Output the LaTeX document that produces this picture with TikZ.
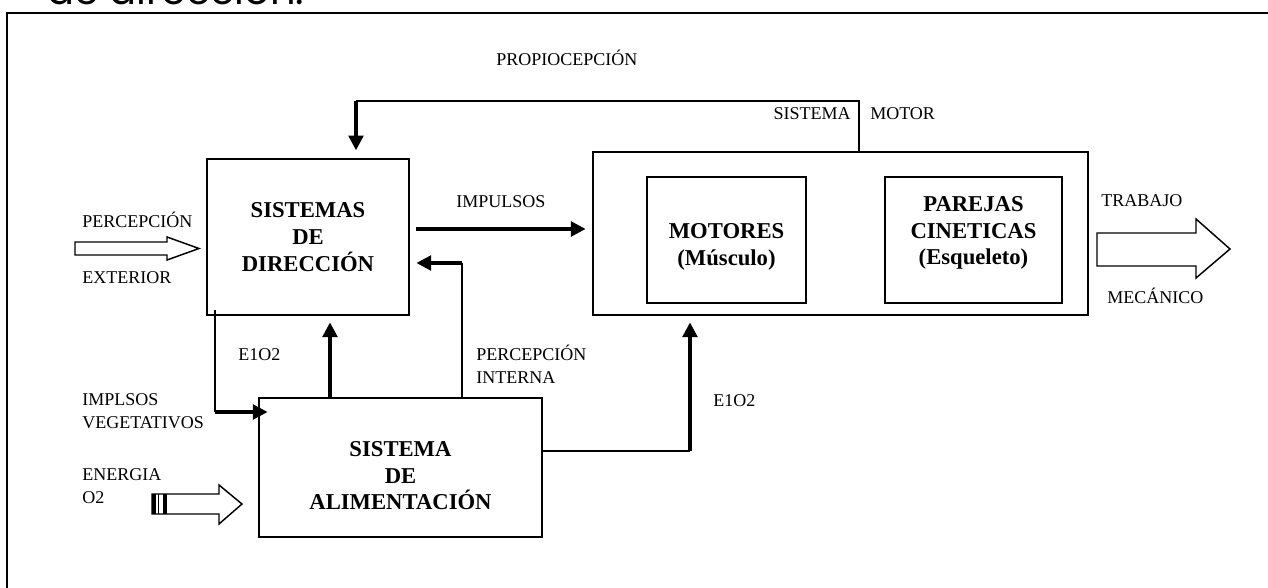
\documentclass[tikz,border=0pt]{standalone}
\usepackage{fontspec}
\setmainfont{Liberation Serif}
\newfontfamily\headfont{Poppins}
\usetikzlibrary{positioning,arrows.meta}

\begin{document}
\begin{tikzpicture}[
  x=0.75pt, y=-0.75pt,
  box/.style={draw, line width=1.1pt, align=center, inner sep=0pt,
    font=\bfseries\fontsize{17}{20}\selectfont},
  lbl/.style={inner sep=0pt, align=left, font=\fontsize{13.5}{17}\selectfont},
  thinln/.style={line width=1.1pt},
  flow/.style={line width=2.4pt, -{Triangle[length=11pt,width=11pt]}},
  hollow/.style={line width=1.1pt, line join=miter},
]
\useasboundingbox (0,0) rectangle (1268,588);
\clip (0,0) rectangle (1268,588);

  % frame and the cut heading above it
  \node[anchor=base west, inner sep=0pt, font=\headfont\fontsize{30}{33}\selectfont] (head) at (47,5) {de dirección.};
  \draw[line width=2.2pt] (1300,13) -- (7,13) -- (7,620);

  % boxes
  \node[box, minimum width=151.5pt, minimum height=117pt] (dir) at (308,237) {SISTEMAS\\DE\\DIRECCIÓN};
  \node[box, minimum width=371.25pt, minimum height=122.25pt] (motor) at (840.5,233.5) {};
  \node[box, minimum width=119.25pt, minimum height=94.5pt] (mot) at (726.5,240) {\rule{0pt}{22pt}MOTORES\\(Músculo)};
  \node[box, minimum width=132.75pt, minimum height=94.5pt] (par) at (973.5,240) {PAREJAS\\CINETICAS\\(Esqueleto)\\[-6pt]~};
  \node[box, minimum width=212.25pt, minimum height=104.25pt] (alim) at (400.5,467.5) {\rule{0pt}{23.5pt}SISTEMA\\DE\\ALIMENTACIÓN};

  % labels
  \node[lbl, anchor=base west] (prop) at (496,66) {PROPIOCEPCIÓN};
  \node[lbl, anchor=base east] (sis) at (851,120) {SISTEMA};
  \node[lbl, anchor=base west] (mtr) at (870,120) {MOTOR};
  \node[lbl, anchor=base west] (imp) at (456,208) {IMPULSOS};
  \node[lbl, anchor=base west] (pext) at (82,228) {PERCEPCIÓN};
  \node[lbl, anchor=base west] (ext) at (82,283) {EXTERIOR};
  \node[lbl, anchor=base west] (trab) at (1101,207) {TRABAJO};
  \node[lbl, anchor=base west] (mec) at (1107,303) {MECÁNICO};
  \node[lbl, anchor=base west] (eo1) at (238,360) {E1O2};
  \node[lbl, anchor=base west] (pint) at (476,383) {PERCEPCIÓN\\INTERNA};
  \node[lbl, anchor=base west] (veg) at (82,428) {IMPLSOS\\VEGETATIVOS};
  \node[lbl, anchor=base west] (ener) at (82,503) {ENERGIA\\O2};
  \node[lbl, anchor=base west] (eo2) at (713,406) {E1O2};

  % propiocepcion loop
  \draw[thinln] (motor.north -| 859,0) |- (356,101) coordinate (pk);
  \draw[flow, shorten >=6pt] (pk) -- (dir.north -| pk);

  % impulsos
  \draw[flow, shorten <=5pt, shorten >=5pt] ([yshift=6pt]dir.east) -- ([yshift=6pt]dir.east -| motor.west);

  % percepcion interna
  \draw[thinln] (alim.north -| 462,0) -- (462,263) coordinate (pi);
  \draw[flow, shorten >=5pt] (pi) -- (pi -| dir.east);

  % E1O2 to direccion
  \draw[flow, shorten >=5pt] (alim.north -| 330,0) -- (dir.south -| 330,0);

  % impulsos vegetativos
  \draw[thinln] ([yshift=4pt]dir.south -| 215,0) -- (215,412) coordinate (iv);
  \draw[flow, shorten >=-7pt] (iv) -- (iv -| alim.west);

  % E1O2 to motor
  \draw[thinln] (alim.east |- 0,451) -- (690,451) coordinate (am);
  \draw[flow, shorten >=5pt] (am) -- (am |- motor.south);

  % hollow arrows
  \draw[hollow] (75,242) -- (167,242) -- (167,237) -- (199,248.5) -- (167,260) -- (167,255) -- (75,255) -- cycle;
  \draw[hollow] (1097,233) -- (1196,233) -- (1196,219) -- (1230,249) -- (1196,278) -- (1196,266) -- (1097,266) -- cycle;
  \draw[hollow] (152,494) -- (219,494) -- (219,485) -- (242,504) -- (219,524) -- (219,514) -- (152,514) -- cycle;
  \fill (152,494) rectangle (155.5,514);
  \fill (157.5,494) rectangle (159,514);
  \fill (163,494) rectangle (166.5,514);
\end{tikzpicture}
\end{document}
